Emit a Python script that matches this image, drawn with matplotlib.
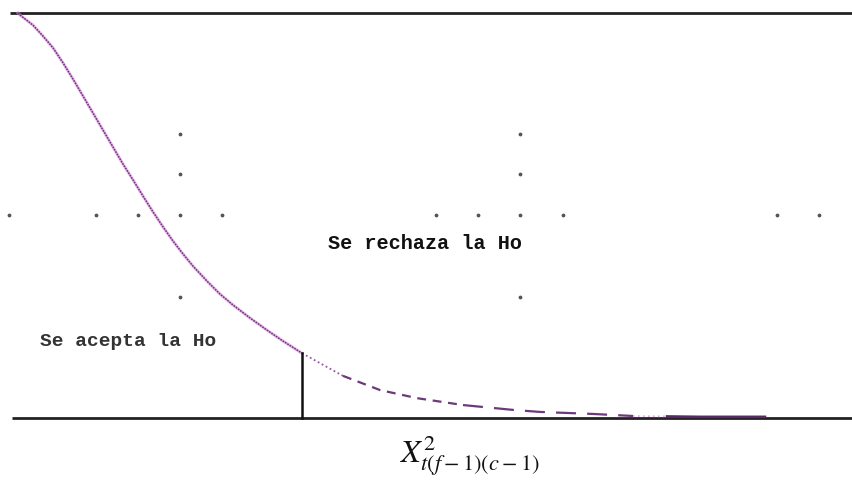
import matplotlib
matplotlib.use("Agg")
import matplotlib.pyplot as plt
import numpy as np

# ---- data (horizontal units, vertical density fraction) ----
curve_x = [18, 20, 33, 43, 53, 63, 73, 83, 93, 103, 113, 123, 133, 143, 153, 163,
           173, 183, 193, 207, 220, 233, 250, 267, 283, 302,
           343, 380, 417, 463, 513, 540, 593, 633, 667, 700, 765]
curve_y = [1.0, 0.995, 0.970, 0.943, 0.914, 0.877, 0.837, 0.795, 0.753, 0.711,
           0.669, 0.627, 0.588, 0.548, 0.509, 0.472, 0.437, 0.405, 0.375, 0.338,
           0.306, 0.279, 0.247, 0.217, 0.190, 0.160,
           0.104, 0.069, 0.049, 0.032, 0.020, 0.015, 0.010, 0.005, 0.004, 0.003, 0.003]
critical_x = 302
critical_y = 0.160

dot_row_x = [9, 96, 138, 180, 222, 436, 478, 520, 563, 777, 819]
dot_row_y = 0.501
dot_col_x = [180, 520]
dot_col_y = [0.701, 0.602, 0.299]

text_reject = "Se rechaza la Ho"
text_accept = "Se acepta la Ho"
axis_label = r"$X^2_{t(f-1)(c-1)}$"

plt.rcParams['mathtext.fontset'] = 'stix'

fig = plt.figure(figsize=(8.52, 4.87), dpi=100)
ax = fig.add_axes([0, 0, 1, 1])
ax.set_xlim(0, 852)
ax.set_ylim(-69 / 405, 418 / 405)
ax.axis('off')

# frame lines
ax.plot([10, 852], [1.0, 1.0], color='#222222', lw=2.0, solid_capstyle='butt')
ax.plot([12, 852], [0.0, 0.0], color='#222222', lw=2.0, solid_capstyle='butt')

# curve
cx = np.array(curve_x, dtype=float)
cy = np.array(curve_y, dtype=float)
head = cx <= critical_x
ax.plot(cx[head], cy[head], color='#e58be5', lw=2.2, alpha=0.6)
ax.plot(cx[head], cy[head], color='#6b3a7a', lw=1.1, ls=(0, (1.2, 0.6)))

tail1 = (cx >= critical_x) & (cx <= 343)
ax.plot(cx[tail1], cy[tail1], color='#9a55a6', lw=1.3, ls=(0, (1, 1.5)))
tail2 = (cx >= 343) & (cx <= 463)
ax.plot(cx[tail2], cy[tail2], color='#6b3a7a', lw=1.6, ls=(0, (4, 3)))
tail3 = (cx >= 463) & (cx <= 633)
ax.plot(cx[tail3], cy[tail3], color='#6b3a7a', lw=1.6, ls=(0, (9, 5)))
tail4 = (cx >= 633) & (cx <= 667)
ax.plot(cx[tail4], cy[tail4], color='#f0a0f0', lw=1.2, ls=(0, (1, 2)))
tail5 = cx >= 667
ax.plot(cx[tail5], cy[tail5], color='#5a2a66', lw=1.8)

# critical value line
ax.plot([critical_x, critical_x], [0.0, critical_y], color='#111111', lw=1.8)

# guide dots
ax.scatter(dot_row_x, [dot_row_y] * len(dot_row_x), s=3, color='#555555', zorder=3)
for x in dot_col_x:
    ax.scatter([x] * len(dot_col_y), dot_col_y, s=3, color='#555555', zorder=3)

# texts
ax.text(328, 0.432, text_reject, family='Liberation Mono', fontweight='bold',
        fontsize=14.5, color='#111111', va='center', ha='left')
ax.text(40, 0.188, text_accept, family='Liberation Mono', fontweight='bold',
        fontsize=14, color='#333333', va='center', ha='left')
ax.text(470, -0.093, axis_label, fontsize=23, color='#111111', ha='center', va='center')

fig.savefig('out.png', dpi=100)
